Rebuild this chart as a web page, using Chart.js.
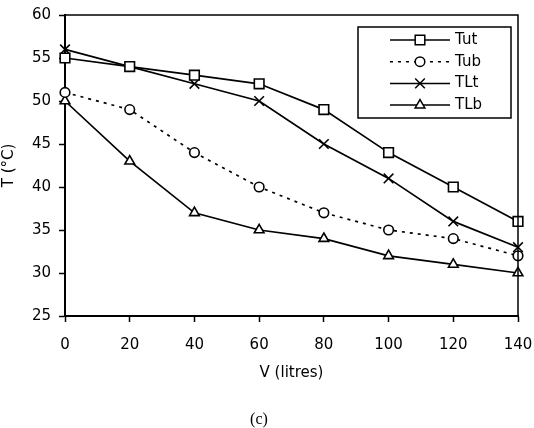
<!DOCTYPE html>
<html lang="en">
<head>
    <meta charset="UTF-8">
    <title>T vs V</title>
    <script src="https://cdn.jsdelivr.net/npm/chart.js@4.4.0/dist/chart.umd.min.js"></script>
    <style>
        html, body { margin: 0; padding: 0; background: #fff; }
        #wrap { width: 534px; height: 428px; }
    </style>
</head>
<body>
<div id="wrap"><canvas id="myChart" width="534" height="428"></canvas></div>

<script>
// volumes (x) and temperatures for each sensor
const volumes = [0, 20, 40, 60, 80, 100, 120, 140];
const tut = [55, 54, 53, 52, 49, 44, 40, 36];
const tub = [51, 49, 44, 40, 37, 35, 34, 32];
const tlt = [56, 54, 52, 50, 45, 41, 36, 33];
const tlb = [50, 43, 37, 35, 34, 32, 31, 30];

const seriesNames = ['Tut', 'Tub', 'TLt', 'TLb'];
const seriesValues = [tut, tub, tlt, tlb];
const markers = ['rect', 'circle', 'crossRot', 'triangle'];
const markerSize = [6.8, 4.8, 6.8, 5.6];
const dashes = [[], [3, 5], [], []];

const font = 'DejaVu Sans';

const datasets = seriesNames.map((name, i) => ({
    label: name,
    data: volumes.map((v, j) => ({ x: v, y: seriesValues[i][j] })),
    borderColor: '#000',
    borderWidth: 1.7,
    borderDash: dashes[i],
    pointStyle: markers[i],
    pointRadius: markerSize[i],
    pointBorderWidth: 1.6,
    pointBackgroundColor: '#fff',
    pointBorderColor: '#000',
    tension: 0,
    clip: false
}));

// frame round plot area + boxed legend top right
const frameAndLegend = {
    id: 'frameAndLegend',
    afterDatasetsDraw(chart) {
        const ctx = chart.ctx;
        const a = chart.chartArea;
        ctx.save();
        ctx.strokeStyle = '#000';
        ctx.lineWidth = 1.5;
        ctx.beginPath();
        ctx.moveTo(a.left, a.top);
        ctx.lineTo(a.right, a.top);
        ctx.lineTo(a.right, a.bottom);
        ctx.stroke();

        const bx = a.right - 160, by = a.top + 12, bw = 153, bh = 91;
        ctx.fillStyle = '#fff';
        ctx.fillRect(bx, by, bw, bh);
        ctx.lineWidth = 1.5;
        ctx.strokeRect(bx, by, bw, bh);

        chart.data.datasets.forEach((ds, i) => {
            const y = by + 13 + i * 21.7;
            const x0 = bx + 32, x1 = bx + 92, xm = bx + 62;
            ctx.strokeStyle = '#000';
            ctx.lineWidth = 1.5;
            ctx.setLineDash(ds.borderDash || []);
            ctx.beginPath();
            ctx.moveTo(x0, y);
            ctx.lineTo(x1, y);
            ctx.stroke();
            ctx.setLineDash([]);
            ctx.fillStyle = '#fff';
            ctx.lineWidth = 1.5;
            Chart.helpers.drawPoint(ctx, {
                pointStyle: ds.pointStyle,
                radius: ds.pointRadius,
                rotation: 0,
                borderWidth: 1.5
            }, xm, y);
            ctx.fillStyle = '#000';
            ctx.font = '15px "' + font + '"';
            ctx.textAlign = 'left';
            ctx.textBaseline = 'middle';
            ctx.fillText(ds.label, x1 + 5, y);
        });
        ctx.restore();
    }
};

const ctx = document.getElementById('myChart').getContext('2d');
const myChart = new Chart(ctx, {
    type: 'line',
    data: { datasets: datasets },
    options: {
        responsive: false,
        animation: false,
        layout: { padding: { top: 15, right: 16, bottom: 0, left: 0 } },
        plugins: {
            legend: { display: false },
            tooltip: { enabled: false },
            title: {
                display: true,
                position: 'bottom',
                text: '(c)',
                color: '#000',
                font: { family: 'Liberation Serif', size: 16, weight: 'normal', lineHeight: 1 },
                padding: { top: 30, bottom: 0 }
            }
        },
        scales: {
            x: {
                type: 'linear',
                min: 0,
                max: 140,
                afterFit: s => { s.height = 66; s.paddingLeft = 0; s.paddingRight = 0; },
                ticks: { stepSize: 20, color: '#000', padding: 14, font: { family: font, size: 15 } },
                grid: { drawOnChartArea: false, tickLength: 6, tickWidth: 1.5, tickColor: '#000' },
                border: { color: '#000', width: 2 },
                title: {
                    display: true,
                    text: 'V (litres)',
                    color: '#000',
                    font: { family: font, size: 15, lineHeight: 1.2 },
                    padding: 0
                }
            },
            y: {
                min: 25,
                max: 60,
                afterFit: s => { s.width = 65; s.paddingTop = 0; s.paddingBottom = 0; },
                ticks: { stepSize: 5, color: '#000', padding: 8, font: { family: font, size: 15 } },
                grid: { drawOnChartArea: false, tickLength: 6, tickWidth: 1.5, tickColor: '#000' },
                border: { color: '#000', width: 2 },
                title: {
                    display: true,
                    text: 'T (°C)',
                    color: '#000',
                    font: { family: font, size: 15, lineHeight: 1.2 },
                    padding: 0
                }
            }
        }
    },
    plugins: [frameAndLegend]
});
</script>
</body>
</html>
